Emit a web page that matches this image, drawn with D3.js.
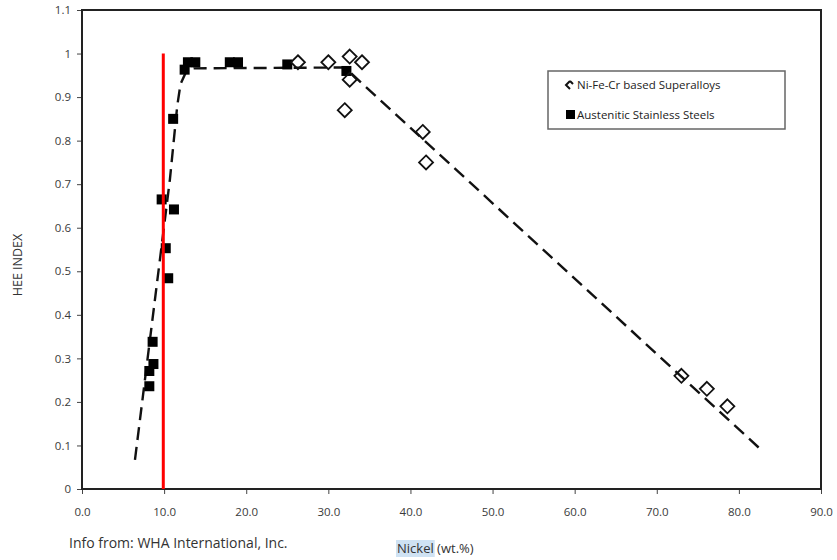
<!DOCTYPE html>
<html>
<head>
<meta charset="utf-8">
<script src="https://cdn.jsdelivr.net/npm/d3@7"></script>
<style>
  html, body { margin: 0; padding: 0; background: #fff; }
  svg { display: block; }
  text { font-family: "Open Sans", "Noto Sans", sans-serif; }
</style>
</head>
<body>
<svg id="chart" width="837" height="560"></svg>
<script>
// ---- Data ----
const xTicks = [0, 10, 20, 30, 40, 50, 60, 70, 80, 90];
const yTicks = [0, 0.1, 0.2, 0.3, 0.4, 0.5, 0.6, 0.7, 0.8, 0.9, 1, 1.1];
const yTickLabels = ["0", "0.1", "0.2", "0.3", "0.4", "0.5", "0.6", "0.7", "0.8", "0.9", "1", "1.1"];

const steelsX = [8.2, 8.2, 8.7, 8.6, 10.5, 10.2, 11.2, 9.7, 11.1, 12.5, 12.9, 13.8, 18.0, 19.0, 25.0, 32.2];
const steelsY = [0.236, 0.271, 0.287, 0.338, 0.484, 0.553, 0.642, 0.665, 0.85, 0.963, 0.98, 0.98, 0.98, 0.98, 0.975, 0.96];

const superX = [26.3, 30.0, 32.6, 34.1, 32.6, 32.0, 41.5, 41.9, 73.0, 76.1, 78.6];
const superY = [0.98, 0.98, 0.993, 0.98, 0.94, 0.87, 0.82, 0.75, 0.26, 0.23, 0.19];

const trendX = [6.45, 10.7, 11.6, 12.0, 12.6, 13.6, 32.0, 83.0];
const trendY = [0.067, 0.71, 0.88, 0.93, 0.955, 0.966, 0.968, 0.085];

const refLineX = 9.9;
const refLineY = [0, 1.0];

const legendLabels = ["Ni-Fe-Cr based Superalloys", "Austenitic Stainless Steels"];

// ---- Layout ----
const svg = d3.select("#chart");
const L = 82, R = 821, T = 10, B = 489;

const x = d3.scaleLinear().domain([0, 90]).range([L, R]);
const y = d3.scaleLinear().domain([0, 1.1]).range([B, T]);

// axes
const xAxis = d3.axisBottom(x).tickValues(xTicks).tickFormat(d3.format(".1f")).tickSize(5).tickPadding(14);
const gx = svg.append("g").attr("transform", `translate(0,${B})`).call(xAxis);
gx.select(".domain").remove();
gx.selectAll("line").attr("stroke", "#444").attr("stroke-width", 1);
gx.selectAll("text").attr("font-size", 11.5).attr("fill", "#3a3a3a");

const yAxis = d3.axisLeft(y).tickValues(yTicks).tickFormat((d, i) => yTickLabels[i]).tickSize(5).tickPadding(6);
const gy = svg.append("g").attr("transform", `translate(${L},0)`).call(yAxis);
gy.select(".domain").remove();
gy.selectAll("line").attr("stroke", "#444").attr("stroke-width", 1);
gy.selectAll("text").attr("font-size", 11.5).attr("fill", "#3a3a3a");

// frame
svg.append("rect").attr("x", L).attr("y", T).attr("width", R - L).attr("height", B - T)
  .attr("fill", "none").attr("stroke", "#222").attr("stroke-width", 2);

// trend line
const trend = trendX.map((v, i) => [v, trendY[i]]);
svg.append("path").datum(trend)
  .attr("d", d3.line().x(d => x(d[0])).y(d => y(d[1])))
  .attr("fill", "none").attr("stroke", "#111").attr("stroke-width", 2.4)
  .attr("stroke-dasharray", "13,7");

// squares (steels)
const sq = 10;
svg.append("g").selectAll("rect").data(steelsX.map((v, i) => [v, steelsY[i]])).join("rect")
  .attr("x", d => x(d[0]) - sq / 2).attr("y", d => y(d[1]) - sq / 2)
  .attr("width", sq).attr("height", sq).attr("fill", "#000");

// diamonds (superalloys)
const ds = 7;
svg.append("g").selectAll("path").data(superX.map((v, i) => [v, superY[i]])).join("path")
  .attr("d", d => `M${x(d[0])},${y(d[1]) - ds} L${x(d[0]) + ds},${y(d[1])} L${x(d[0])},${y(d[1]) + ds} L${x(d[0]) - ds},${y(d[1])} Z`)
  .attr("fill", "none").attr("stroke", "#111").attr("stroke-width", 1.8);

// red reference line
svg.append("line").attr("x1", x(refLineX)).attr("x2", x(refLineX))
  .attr("y1", y(refLineY[1])).attr("y2", y(refLineY[0]))
  .attr("stroke", "#f00").attr("stroke-width", 3);

// legend
const lg = svg.append("g");
lg.append("rect").attr("x", 548).attr("y", 71).attr("width", 237).attr("height", 58)
  .attr("fill", "#fff").attr("stroke", "#666").attr("stroke-width", 1.5);
lg.append("path").attr("d", "M570,81 L566,85 L570,89 M570,81 L573,84")
  .attr("fill", "none").attr("stroke", "#111").attr("stroke-width", 2);
lg.append("rect").attr("x", 566).attr("y", 110).attr("width", 9).attr("height", 9).attr("fill", "#000");
lg.selectAll("text").data(legendLabels).join("text")
  .attr("x", 577).attr("y", (d, i) => 89 + i * 30)
  .attr("font-size", 11.5).attr("fill", "#222").text(d => d);

// y axis title
svg.append("text").attr("transform", "translate(22,265) rotate(-90)")
  .attr("text-anchor", "middle").attr("font-size", 12.5).attr("fill", "#333").text("HEE INDEX");

// source note
svg.append("text").attr("x", 69).attr("y", 548).attr("font-size", 14).attr("fill", "#333")
  .text("Info from: WHA International, Inc.");

// x axis title with highlighted "Nickel"
const xg = svg.append("g");
const hl = xg.append("rect").attr("fill", "#cfe2f3");
const xt = xg.append("text").attr("x", 397).attr("y", 553).attr("font-size", 13).attr("fill", "#333");
const nick = xt.append("tspan").text("Nickel");
xt.append("tspan").text(" (wt.%)");
const bb = nick.node().getBBox();
hl.attr("x", bb.x - 1).attr("y", bb.y + 1).attr("width", bb.width + 2).attr("height", bb.height - 1);
</script>
</body>
</html>
